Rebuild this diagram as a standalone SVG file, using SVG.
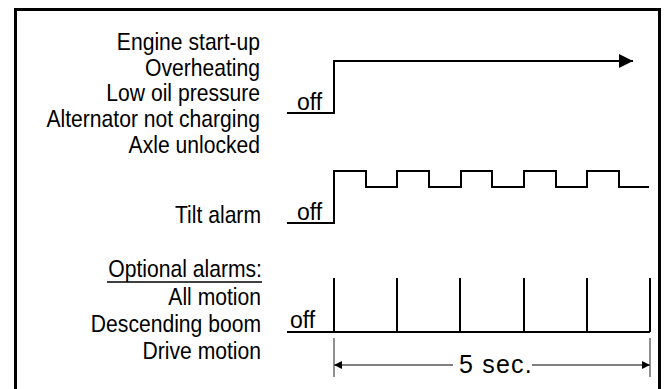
<svg xmlns="http://www.w3.org/2000/svg" width="665" height="389" viewBox="0 0 665 389">
<style>
.lbl{font-family:"Liberation Sans",Arial,sans-serif;font-size:24px;fill:#000;text-anchor:end}
.off{font-family:"Liberation Sans",Arial,sans-serif;font-size:23px;fill:#000}
.sec{font-family:"Liberation Sans",Arial,sans-serif;font-size:25px;fill:#000;text-anchor:middle;letter-spacing:1.2px}
.sig{fill:none;stroke:#000;stroke-width:2}
.dim{fill:none;stroke:#555;stroke-width:1.3}
</style>
<defs>
<marker id="ah" viewBox="0 0 10 10" refX="10" refY="5" markerWidth="17" markerHeight="14" markerUnits="userSpaceOnUse" orient="auto"><path d="M0,0L10,5L0,10z" fill="#000"/></marker>
<marker id="dh" viewBox="0 0 10 10" refX="10" refY="5" markerWidth="14" markerHeight="8" markerUnits="userSpaceOnUse" orient="auto-start-reverse"><path d="M0,0L10,5L0,10z" fill="#000"/></marker>
</defs>
<rect x="15.5" y="9.5" width="644" height="400" fill="#fff" stroke="#000" stroke-width="3"/>
<g id="labels-main" transform="scale(0.88,1)">
<text class="lbl" x="295.5" y="50">Engine start-up</text>
<text class="lbl" x="295.5" y="76">Overheating</text>
<text class="lbl" x="295.5" y="101">Low oil pressure</text>
<text class="lbl" x="295.5" y="127">Alternator not charging</text>
<text class="lbl" x="295.5" y="153">Axle unlocked</text>
</g>
<g id="label-tilt" transform="scale(0.88,1)"><text class="lbl" x="296.6" y="223">Tilt alarm</text></g>
<g id="labels-optional">
<g transform="scale(0.88,1)">
<text class="lbl" x="297.7" y="277">Optional alarms:</text>
<text class="lbl" x="296.6" y="305">All motion</text>
<text class="lbl" x="296.6" y="332">Descending boom</text>
<text class="lbl" x="296.6" y="359">Drive motion</text>
</g>
<line x1="107" y1="282" x2="262" y2="282" stroke="#000" stroke-width="1.5"/>
</g>
<g id="signals">
<text class="off" x="297" y="110">off</text>
<path class="sig" d="M287,113H334V61H633" marker-end="url(#ah)"/>
<text class="off" x="297" y="220">off</text>
<path class="sig" d="M287,223H334V171H366V187H397V171H429V187H461V171H492V187H524V171H556V187H587V171H619V187H649"/>
<text class="off" x="290" y="328">off</text>
<path class="sig" d="M287,332H650M334,332V278M397,332V278M460,332V278M524,332V278M587,332V278M650,332V278"/>
</g>
<g id="dimension">
<path class="dim" d="M334,338V377M650,338V377"/>
<line class="dim" x1="334" y1="365" x2="453" y2="365" marker-start="url(#dh)"/>
<line class="dim" x1="532" y1="365" x2="650" y2="365" marker-end="url(#dh)"/>
<text class="sec" x="496" y="373">5 sec.</text>
</g>
</svg>
